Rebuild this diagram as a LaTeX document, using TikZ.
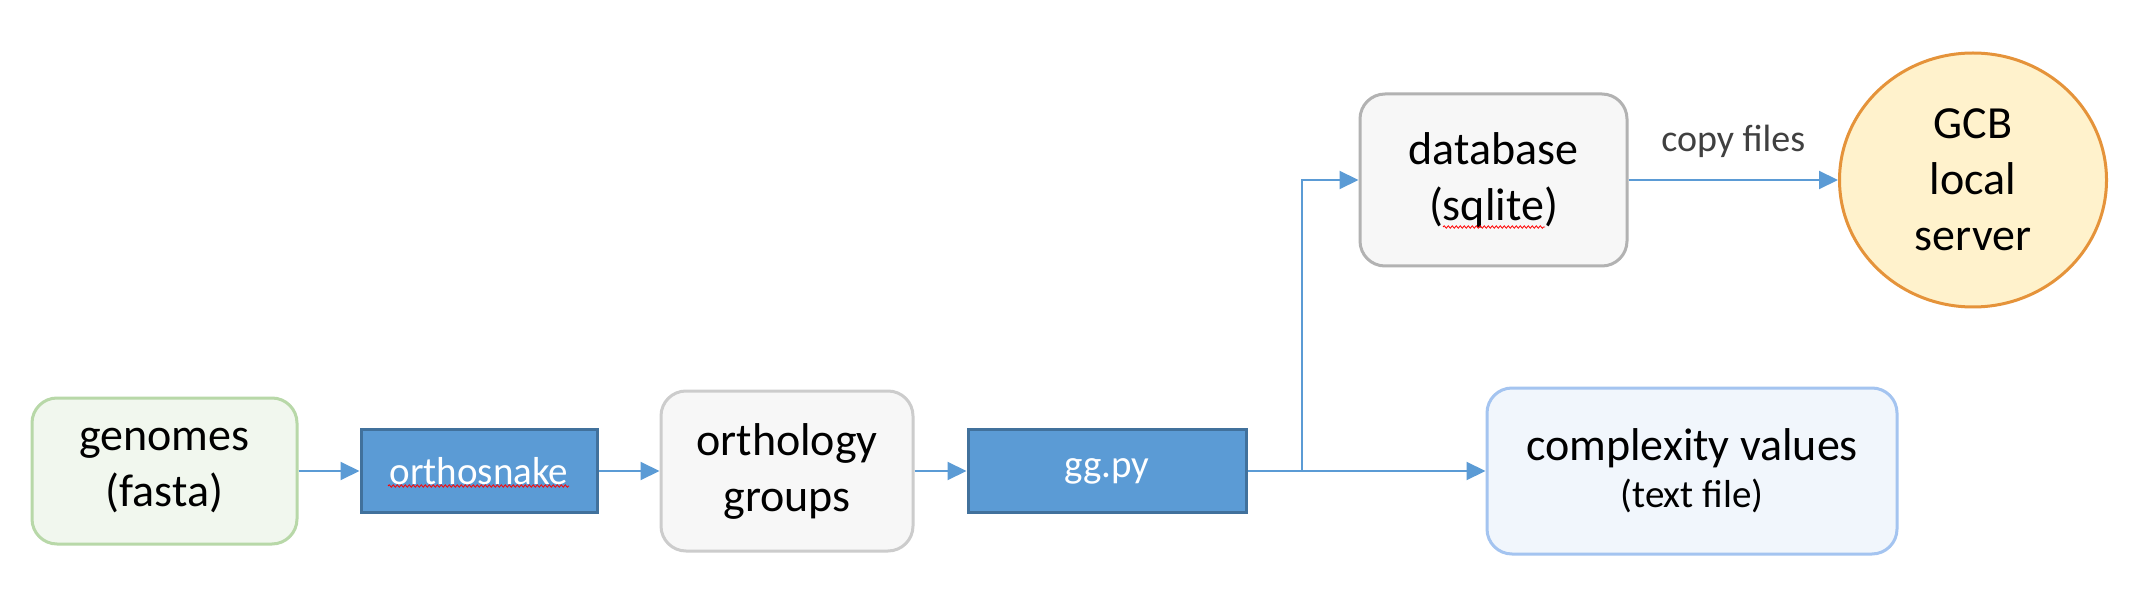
\documentclass[tikz,border=0pt]{standalone}
\usepackage{fontspec}
\setmainfont{Carlito}
\usetikzlibrary{arrows.meta,shapes.geometric,decorations.pathmorphing}
\definecolor{flowblue}{HTML}{5B9BD5}
\definecolor{stepedge}{HTML}{41719C}
\definecolor{genfill}{HTML}{F1F7EE}
\definecolor{genedge}{HTML}{B8D8A8}
\definecolor{grayfill}{HTML}{F7F7F7}
\definecolor{grayedge}{HTML}{CCCCCC}
\definecolor{dbedge}{HTML}{B2B2B2}
\definecolor{cplxfill}{HTML}{F1F6FC}
\definecolor{cplxedge}{HTML}{A4C4F0}
\definecolor{gcbfill}{HTML}{FFF2CC}
\definecolor{gcbedge}{HTML}{E5933A}
\definecolor{labelgray}{HTML}{404040}

\begin{document}
\begin{tikzpicture}[x=0.5pt, y=-0.5pt,
    bigtext/.style={font=\fontsize{23}{28}\selectfont, align=center},
    databox/.style={bigtext, draw, rounded corners=12.5pt, line width=1.5pt, inner sep=0pt},
    toolbox/.style={draw=stepedge, fill=flowblue, line width=1.5pt, inner sep=0pt,
        text=white, font=\fontsize{19.5}{24}\selectfont,
        minimum height=41.5pt},
    flow/.style={draw=flowblue, line width=1pt, -{Triangle[length=9.5pt, width=9pt]}},
    squiggle/.style={red, line width=0.4pt, decorate,
        decoration={snake, segment length=2pt, amplitude=0.6pt}}]

    \useasboundingbox[fill=white] (0,0) rectangle (2137,593);

    % boxes of the pipeline
    \node [databox, draw=genedge, fill=genfill, minimum width=132.5pt, minimum height=73pt]
        (genomes) at (164.5,471) {genomes\\(fasta)};
    \node [toolbox, minimum width=118pt] (orthosnake) at (479,471) {orthosnake};
    \node [databox, draw=grayedge, fill=grayfill, minimum width=126pt, minimum height=80pt]
        (groups) at (787,471) {orthology\\groups};
    \node [toolbox, minimum width=139pt] (ggpy) at (1107,471) {gg.py};
    \node [databox, draw=cplxedge, fill=cplxfill, minimum width=205pt, minimum height=83pt]
        (complexity) at (1692,471)
        {complexity values\\[-4.5pt]\fontsize{19.5}{23.5}\selectfont (text file)};
    \node [databox, draw=dbedge, fill=grayfill, minimum width=133.5pt, minimum height=86pt]
        (database) at (1493.5,180) {database\\(sqlite)};
    \node [ellipse, bigtext, draw=gcbedge, fill=gcbfill, line width=1.5pt, inner sep=0pt,
        minimum width=133.5pt, minimum height=127pt]
        (gcb) at (1973,180) {GCB\\local\\server};

    % spell check marks
    \draw [squiggle] (388,486) -- (569,486);
    \draw [squiggle] (1443,227) -- (1545,227);

    % connectors
    \coordinate (split) at (1302,471);
    \draw [flow] (genomes) -- (orthosnake);
    \draw [flow] (orthosnake) -- (groups);
    \draw [flow] (groups) -- (ggpy);
    \draw [draw=flowblue, line width=1pt] (ggpy.east) -- (split);
    \draw [flow] (split) |- (database.west);
    \draw [flow] (split) -- (complexity.west);
    \draw [flow] (database.east) -- node [above=10.5pt, inner sep=0pt, text=labelgray,
        font=\fontsize{19}{23}\selectfont] {copy files} (gcb.west);
\end{tikzpicture}
\end{document}
